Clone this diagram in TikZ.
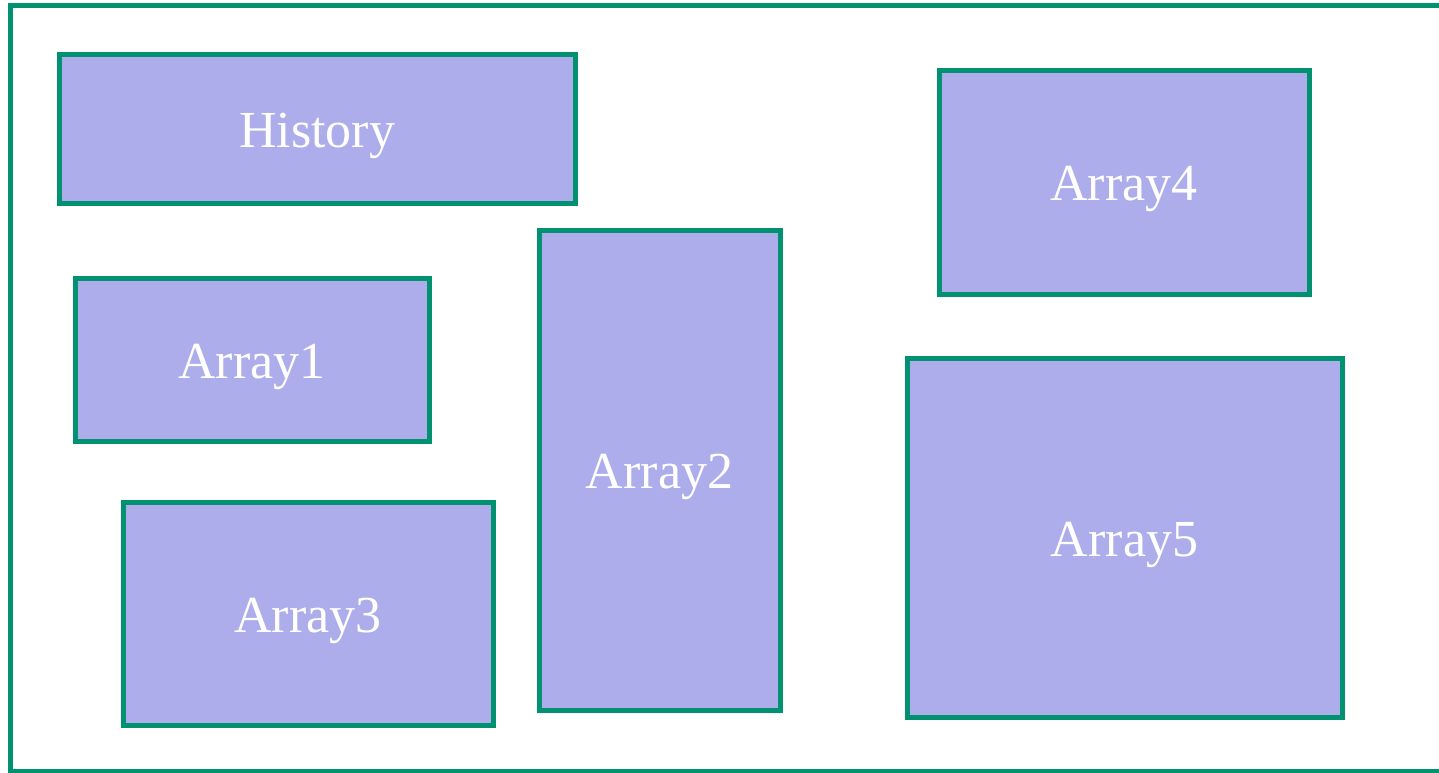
\documentclass[tikz,border=0pt]{standalone}
\usepackage{fontspec}
\setmainfont{Liberation Serif}
\definecolor{framegreen}{RGB}{0,146,112}
\definecolor{boxfill}{RGB}{173,173,235}
\tikzset{
  region/.style={draw=framegreen, line width=3.75pt, fill=boxfill},
  label/.style={text=white, font=\fontsize{39}{39}\selectfont, yshift=-5.5pt},
}
\begin{document}
\begin{tikzpicture}[x=0.75pt, y=-0.75pt]
  \useasboundingbox (0,0) rectangle (1439,772);
  \clip (0,0) rectangle (1439,772);
  % outer frame
  \draw[draw=framegreen, line width=3.75pt] (10,5) rectangle (1460,771);
  % panels
  \draw[region] (59,54) rectangle (575,203)
    node[midway, label] (history) {History};
  \draw[region] (75,278) rectangle (429,441)
    node[midway, label] (array1) {Array1};
  \draw[region] (539,230) rectangle (780,710)
    node[midway, label] (array2) {Array2};
  \draw[region] (123,502) rectangle (493,725)
    node[midway, label] (array3) {Array3};
  \draw[region] (939,70) rectangle (1309,294)
    node[midway, label] (array4) {Array4};
  \draw[region] (907,358) rectangle (1342,717)
    node[midway, label] (array5) {Array5};
\end{tikzpicture}
\end{document}
